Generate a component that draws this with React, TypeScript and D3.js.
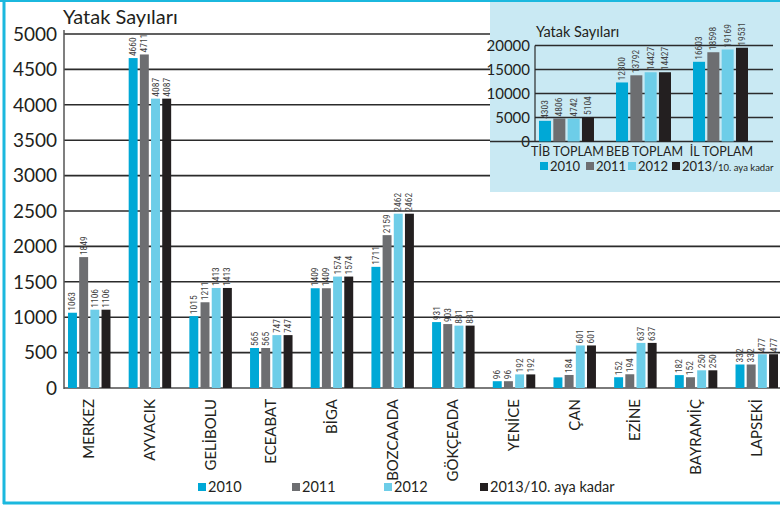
import React from "react";
import * as d3 from "d3";

const districts = ["MERKEZ", "AYVACIK", "GELİBOLU", "ECEABAT", "BİGA", "BOZCAADA", "GÖKÇEADA", "YENİCE", "ÇAN", "EZİNE", "BAYRAMİÇ", "LAPSEKİ"];
const years = ["2010", "2011", "2012", "2013/10. aya kadar"];
const v2010 = [1063, 4660, 1015, 565, 1409, 1711, 931, 96, 150, 152, 182, 332];
const v2011 = [1849, 4711, 1211, 565, 1409, 2159, 903, 96, 184, 194, 152, 332];
const v2012 = [1106, 4087, 1413, 747, 1574, 2462, 881, 192, 601, 637, 250, 477];
const v2013 = [1106, 4087, 1413, 747, 1574, 2462, 881, 192, 601, 637, 250, 477];
const hiddenLabel2010 = ["ÇAN"];
const yTicks = [0, 500, 1000, 1500, 2000, 2500, 3000, 3500, 4000, 4500, 5000];

const totalCats = ["TİB TOPLAM", "BEB TOPLAM", "İL TOPLAM"];
const t2010 = [4303, 12300, 16603];
const t2011 = [4806, 13792, 18598];
const t2012 = [4742, 14427, 19169];
const t2013 = [5104, 14427, 19531];
const insetTicks = [0, 5000, 10000, 15000, 20000];

const colors = ["#00a8d6", "#6d6e71", "#6dcde8", "#231f20"];
const FONT = "Lato, 'Open Sans', sans-serif";
const NARROW = "'Liberation Sans Narrow', 'Roboto Condensed', Roboto, sans-serif";

export default function App() {
  const W = 780, H = 507;
  const series = [v2010, v2011, v2012, v2013];
  const tseries = [t2010, t2011, t2012, t2013];

  const x = d3.scaleBand<string>().domain(districts).range([68, 778]).paddingInner(0.3).paddingOuter(0);
  const xs = d3.scaleBand<string>().domain(years).range([0, x.bandwidth()]).paddingInner(0.2).paddingOuter(0);
  const y = d3.scaleLinear().domain([0, 5000]).range([388, 34]);

  const ix = d3.scaleBand<string>().domain(totalCats).range([539, 748]).paddingInner(0.286).paddingOuter(0);
  const ixs = d3.scaleBand<string>().domain(years).range([0, ix.bandwidth()]).paddingInner(0.16).paddingOuter(0);
  const iy = d3.scaleLinear().domain([0, 20000]).range([141.5, 45.5]);

  const legendMain = [198, 292, 384, 480];
  const legendInset = [540, 586, 628, 672];

  return (
    <svg width={W} height={H} style={{ position: "absolute", left: 0, top: 0, fontFamily: FONT }}>
      <rect x={0} y={0} width={W} height={H} fill="#fff" />
      <line x1={0} x2={W} y1={1} y2={1} stroke="#1bb8de" strokeWidth={2} />
      <line x1={4} x2={4} y1={0} y2={504} stroke="#1bb8de" strokeWidth={3} />
      <line x1={3} x2={W} y1={503} y2={503} stroke="#1bb8de" strokeWidth={3} />

      {yTicks.map((t) => (
        <g key={t}>
          {t > 0 && <line x1={64} x2={W} y1={y(t)} y2={y(t)} stroke="#2b2b2b" strokeWidth={1.6} />}
          <text x={57} y={y(t)} dy="0.36em" textAnchor="end" fontSize={19} fill="#231f20">{t}</text>
        </g>
      ))}
      <line x1={64} x2={W} y1={y(0)} y2={y(0)} stroke="#7a7a7a" strokeWidth={2} />
      <line x1={64} x2={64} y1={y(5000) - 4} y2={y(0) + 1} stroke="#555" strokeWidth={1.5} />
      <text x={63} y={24} fontSize={20} fill="#231f20">Yatak Sayıları</text>

      {districts.map((d, i) => (
        <g key={d} transform={`translate(${x(d)},0)`}>
          {years.map((yr, j) => {
            const v = series[j][i];
            const bx = xs(yr)!;
            const showLabel = !(j === 0 && hiddenLabel2010.includes(d));
            return (
              <g key={yr}>
                <rect x={bx} y={y(v)} width={xs.bandwidth()} height={y(0) - y(v)} fill={colors[j]} />
                {showLabel && (
                  <text transform={`translate(${bx + xs.bandwidth() / 2 + 3},${y(v) - 2}) rotate(-90)`} fontSize={9.5} fontFamily={NARROW} fill="#444" textAnchor="start">{v}</text>
                )}
              </g>
            );
          })}
          <text transform={`translate(${x.bandwidth() / 2 + 5},399) rotate(-90)`} fontSize={15} fill="#231f20" textAnchor="end">{d}</text>
        </g>
      ))}

      {years.map((yr, j) => (
        <g key={yr}>
          <rect x={legendMain[j]} y={483} width={8} height={8} fill={colors[j]} />
          <text x={legendMain[j] + 10} y={492} fontSize={14.5} fill="#231f20">{yr}</text>
        </g>
      ))}

      <rect x={490} y={2} width={W - 490} height={190} fill="#c9e9f3" />
      <text x={536} y={37} fontSize={14.5} fill="#231f20">Yatak Sayıları</text>
      {insetTicks.map((t) => (
        <g key={t}>
          {t > 0 && <line x1={535} x2={773} y1={iy(t)} y2={iy(t)} stroke="#2b2b2b" strokeWidth={1.4} />}
          <text x={530} y={iy(t)} dy="0.36em" textAnchor="end" fontSize={15} fill="#231f20">{t}</text>
        </g>
      ))}
      <line x1={490} x2={773} y1={iy(0)} y2={iy(0)} stroke="#2b2b2b" strokeWidth={1.6} />
      <line x1={535} x2={535} y1={iy(20000)} y2={iy(0)} stroke="#2b2b2b" strokeWidth={1.2} />
      {totalCats.map((c, i) => (
        <g key={c} transform={`translate(${ix(c)},0)`}>
          {years.map((yr, j) => {
            const v = tseries[j][i];
            const bx = ixs(yr)!;
            return (
              <g key={yr}>
                <rect x={bx} y={iy(v)} width={ixs.bandwidth()} height={iy(0) - iy(v)} fill={colors[j]} />
                <text transform={`translate(${bx + ixs.bandwidth() / 2 + 3},${iy(v) - 2}) rotate(-90)`} fontSize={9.5} fontFamily={NARROW} fill="#444" textAnchor="start">{v}</text>
              </g>
            );
          })}
          <text x={ix.bandwidth() / 2 + 1} y={156} textAnchor="middle" fontSize={12.5} fill="#231f20">{c}</text>
        </g>
      ))}
      {years.map((yr, j) => (
        <g key={yr}>
          <rect x={legendInset[j]} y={162} width={8} height={8} fill={colors[j]} />
          {j < 3 ? (
            <text x={legendInset[j] + 10} y={171} fontSize={13} fill="#231f20">{yr}</text>
          ) : (
            <text x={legendInset[j] + 10} y={171} fontSize={13} fill="#231f20">
              2013/<tspan fontSize={9.5}>10. aya kadar</tspan>
            </text>
          )}
        </g>
      ))}
    </svg>
  );
}
